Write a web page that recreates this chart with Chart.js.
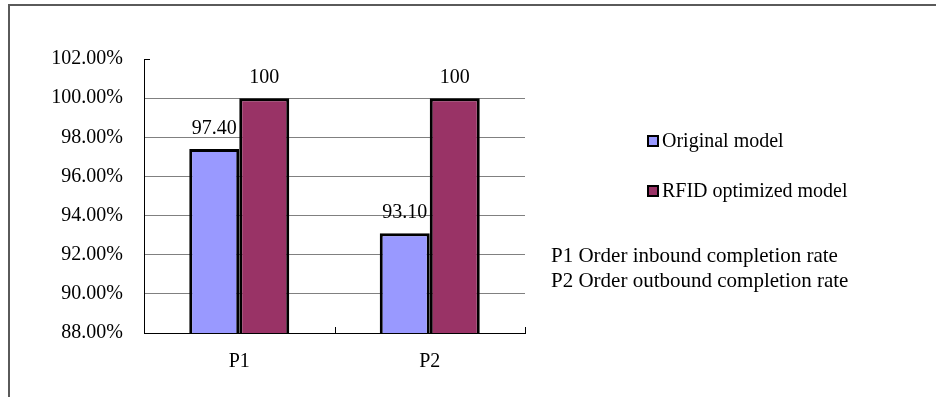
<!DOCTYPE html>
<html>
<head>
<meta charset="utf-8">
<script src="https://cdn.jsdelivr.net/npm/chart.js@4"></script>
<style>
    body { margin: 0; background: #fff; }
    #wrap { position: relative; width: 936px; height: 397px; }
    #frame { position: absolute; left: 8px; top: 4px; right: 0; bottom: 0;
             border-top: 2px solid #5a5a5a; border-left: 2px solid #5a5a5a; }
    canvas { position: absolute; left: 0; top: 0; }
</style>
</head>
<body>
<div id="wrap">
    <div id="frame"></div>
    <canvas id="chart" width="936" height="397"></canvas>
</div>
<script>
// Daten
const categories = ['P1', 'P2'];
const originalValues = [97.4, 93.1];
const rfidValues = [100, 100];
const originalLabels = ['97.40', '93.10'];
const rfidLabels = ['100', '100'];
const seriesNames = ['Original model', 'RFID optimized model'];
const notes = ['P1 Order inbound completion rate', 'P2 Order outbound completion rate'];

const FONT = '"Liberation Serif", "Times New Roman", serif';
const FONT_SIZE = 20;

// Werte über den Balken
const valueLabelPlugin = {
    id: 'valueLabels',
    afterDatasetsDraw(chart) {
        const ctx = chart.ctx;
        ctx.save();
        ctx.font = FONT_SIZE + 'px ' + FONT;
        ctx.fillStyle = '#000';
        ctx.textAlign = 'center';
        ctx.textBaseline = 'alphabetic';
        chart.data.datasets.forEach((ds, i) => {
            const meta = chart.getDatasetMeta(i);
            meta.data.forEach((bar, j) => {
                ctx.fillText(ds.valueLabels[j], bar.x, bar.y - 15);
            });
        });
        ctx.restore();
    }
};

// Achsen-Details: kleine Striche wie im Original
const axisTicksPlugin = {
    id: 'axisTicks',
    afterDraw(chart) {
        const ctx = chart.ctx;
        const area = chart.chartArea;
        const x = chart.scales.x;
        ctx.save();
        ctx.strokeStyle = '#000';
        ctx.lineWidth = 1;
        ctx.beginPath();
        // oberer Strich an 102%
        ctx.moveTo(area.left, area.top + 0.5);
        ctx.lineTo(area.left + 6, area.top + 0.5);
        // Kategoriegrenzen an der x-Achse
        for (let i = 0; i < categories.length; i++) {
            const half = (x.getPixelForValue(1) - x.getPixelForValue(0)) / 2;
            const bx = Math.round(x.getPixelForValue(i) + half) + 0.5;
            ctx.moveTo(bx, area.bottom);
            ctx.lineTo(bx, area.bottom - 6);
        }
        ctx.stroke();
        ctx.restore();
    }
};

// Legende und Erklärungstext rechts
const sideLegendPlugin = {
    id: 'sideLegend',
    afterDraw(chart) {
        const ctx = chart.ctx;
        ctx.save();
        ctx.font = FONT_SIZE + 'px ' + FONT;
        ctx.textBaseline = 'middle';
        ctx.textAlign = 'left';
        const rows = [141, 191];
        chart.data.datasets.forEach((ds, i) => {
            ctx.fillStyle = ds.backgroundColor;
            ctx.fillRect(648, rows[i] - 5, 10, 10);
            ctx.strokeStyle = '#000';
            ctx.lineWidth = 2;
            ctx.strokeRect(648, rows[i] - 5, 10, 10);
            ctx.fillStyle = '#000';
            ctx.fillText(ds.label, 662, rows[i] + 1);
        });
        ctx.font = '21px ' + FONT;
        ctx.fillText(notes[0], 551, 256);
        ctx.fillText(notes[1], 551, 281);
        ctx.restore();
    }
};

new Chart('chart', {
    type: 'bar',
    data: {
        labels: categories,
        datasets: [{
            label: seriesNames[0],
            data: originalValues,
            valueLabels: originalLabels,
            backgroundColor: '#9999FF',
            borderColor: '#000',
            borderWidth: 3,
            borderSkipped: false,
            categoryPercentage: 0.525,
            barPercentage: 1
        }, {
            label: seriesNames[1],
            data: rfidValues,
            valueLabels: rfidLabels,
            backgroundColor: '#993366',
            borderColor: '#000',
            borderWidth: 3,
            borderSkipped: false,
            categoryPercentage: 0.525,
            barPercentage: 1
        }]
    },
    options: {
        responsive: false,
        animation: false,
        layout: {padding: {left: 0, top: 59, right: 411, bottom: 0}},
        plugins: {
            legend: {display: false},
            tooltip: {enabled: false}
        },
        scales: {
            x: {
                grid: {display: false},
                border: {color: '#000', width: 1},
                ticks: {
                    color: '#000',
                    font: {family: FONT, size: FONT_SIZE},
                    padding: 9,
                    maxRotation: 0
                },
                afterFit(scale) { scale.height = 64; }
            },
            y: {
                min: 88,
                max: 102,
                grid: {
                    color: (c) => c.tick && c.tick.value === 102 ? 'rgba(0,0,0,0)' : '#808080',
                    drawTicks: false
                },
                border: {color: '#000', width: 1},
                ticks: {
                    stepSize: 2,
                    color: '#000',
                    font: {family: FONT, size: FONT_SIZE},
                    padding: 21,
                    callback: (v) => v.toFixed(2) + '%'
                },
                afterFit(scale) { scale.width = 144; }
            }
        }
    },
    plugins: [valueLabelPlugin, axisTicksPlugin, sideLegendPlugin]
});
</script>
</body>
</html>
